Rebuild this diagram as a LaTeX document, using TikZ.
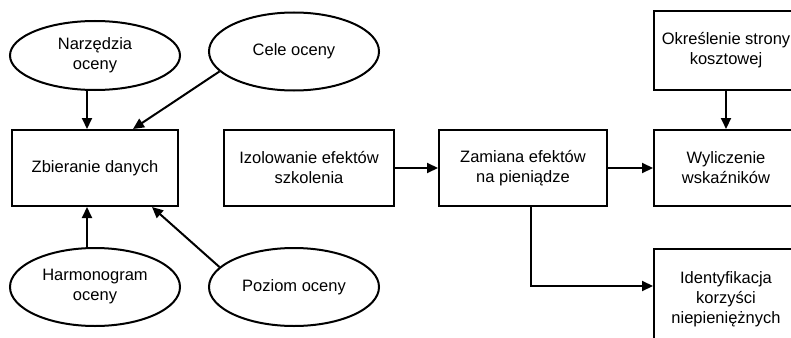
\documentclass[tikz,border=0pt]{standalone}
\usepackage{fontspec}
\setmainfont{Liberation Sans}
\usepackage{tikz}
\usetikzlibrary{shapes.geometric, arrows.meta, positioning}

\begin{document}
\begin{tikzpicture}[x=1pt, y=-1pt, font=\fontsize{16.5}{20}\selectfont, line width=2pt,
    >={Triangle[length=11pt,width=10pt]}, node distance=40pt and 44pt,
    box/.style={draw, minimum width=168pt, minimum height=76pt, align=center, inner sep=2pt},
    ell/.style={draw, ellipse, minimum width=170pt, minimum height=78pt, align=center, inner sep=1pt}]
    \clip (0,0) rectangle (791,337);
    % lewa strona: zbieranie danych
    \node[box, minimum width=166pt] (zbier) at (95,168) {Zbieranie danych};
    \node[ell, minimum height=69pt, above=38pt of zbier] (narz) {Narzędzia\\oceny};
    \node[ell, right=27pt of narz, yshift=4pt] (cele) {Cele oceny};
    \node[ell, below=of zbier] (harm) {Harmonogram\\oceny};
    \node[ell, right=27pt of harm] (poz) {Poziom oceny};
    % ciąg przekształceń
    \node[box, minimum width=170pt, right=of zbier] (izol) {Izolowanie efektów\\szkolenia};
    \node[box, right=43pt of izol] (zam) {Zamiana efektów\\na pieniądze};
    \node[box, minimum width=144pt, right=45pt of zam] (wyl) {Wyliczenie\\wskaźników};
    \node[box, minimum width=144pt, minimum height=79pt, above=38pt of wyl] (okr) {Określenie strony\\kosztowej};
    \node[box, minimum width=144pt, minimum height=100pt, below=41pt of wyl] (ident) {Identyfikacja\\korzyści\\niepieniężnych};
    \draw[->] ([xshift=-8pt]narz.south) -- ([xshift=-8pt]zbier.north);
    \draw[->] (cele.195) -- ([xshift=38pt]zbier.north);
    \draw[->] ([xshift=-8pt]harm.north) -- ([xshift=-8pt]zbier.south);
    \draw[->] (poz.165) -- ([xshift=57pt]zbier.south);
    \draw[->] (izol) -- (zam);
    \draw[->] (zam) -- (wyl);
    \draw[->] (okr) -- (wyl);
    \draw[->] ([xshift=8pt]zam.south) |- ([yshift=-38pt]ident.north west);
\end{tikzpicture}
\end{document}
